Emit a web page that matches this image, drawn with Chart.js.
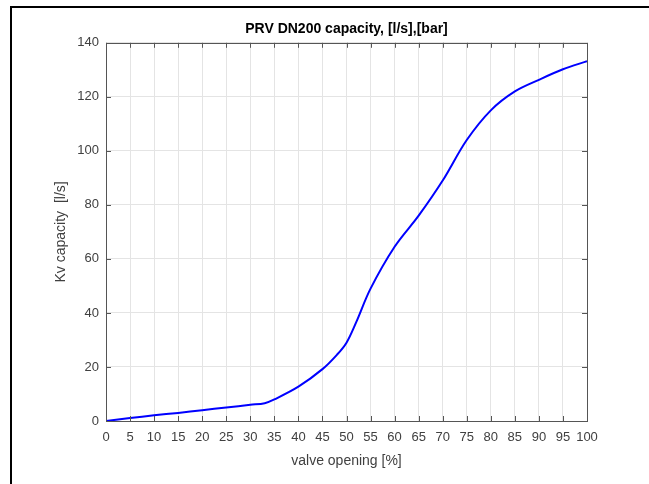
<!DOCTYPE html>
<html>
<head>
<meta charset="utf-8">
<script src="https://cdn.jsdelivr.net/npm/chart.js@4"></script>
<style>
  html, body { margin: 0; padding: 0; background: #fff; }
  #wrap { position: relative; width: 649px; height: 484px; }
  #frame { position: absolute; left: 10px; top: 6px; width: 640px; height: 480px;
           border-left: 2px solid #000; border-top: 2px solid #000; }
  canvas { position: absolute; left: 0; top: 0; }
</style>
</head>
<body>
<div id="wrap">
  <div id="frame"></div>
  <canvas id="chart" width="649" height="484"></canvas>
</div>
<script>
// valve opening [%]
var opening = [0, 5, 10, 15, 20, 25, 30, 33, 35, 40, 45, 48, 50, 52, 55, 60, 65, 70, 75, 80, 85, 90, 95, 100];
// Kv capacity [l/s]
var capacity = [0, 1.1, 2.1, 3.0, 4.0, 5.0, 6.0, 6.6, 8.0, 12.7, 19.2, 24.5, 29, 36.5, 49, 64.5, 76, 89, 104, 115, 122, 126.3, 130.2, 133.2];

var titleText = 'PRV DN200 capacity, [l/s],[bar]';
var xTitle = 'valve opening [%]';
var yTitle = 'Kv capacity  [l/s]';

var points = opening.map(function (x, i) { return { x: x, y: capacity[i] }; });

// MATLAB style box with inward ticks
var boxTicks = {
  id: 'boxTicks',
  afterDraw: function (chart) {
    var ctx = chart.ctx, a = chart.chartArea;
    var xs = chart.scales.x, ys = chart.scales.y;
    var len = 5;
    ctx.save();
    ctx.strokeStyle = '#555';
    ctx.lineWidth = 1;
    ctx.beginPath();
    xs.ticks.forEach(function (t, i) {
      var px = Math.round(xs.getPixelForTick(i)) + 0.5;
      ctx.moveTo(px, a.bottom); ctx.lineTo(px, a.bottom - len);
      ctx.moveTo(px, a.top); ctx.lineTo(px, a.top + len);
    });
    ys.ticks.forEach(function (t, i) {
      var py = Math.round(ys.getPixelForTick(i)) + 0.5;
      ctx.moveTo(a.left, py); ctx.lineTo(a.left + len, py);
      ctx.moveTo(a.right, py); ctx.lineTo(a.right - len, py);
    });
    ctx.stroke();
    ctx.strokeRect(Math.round(a.left) + 0.5, Math.round(a.top) + 0.5,
                   Math.round(a.right - a.left), Math.round(a.bottom - a.top));
    ctx.restore();
  }
};

var ctx = document.getElementById('chart').getContext('2d');
new Chart(ctx, {
  type: 'line',
  data: {
    datasets: [{
      data: points,
      borderColor: '#0000ff',
      borderWidth: 2,
      pointRadius: 0,
      fill: false,
      tension: 0.35
    }]
  },
  plugins: [boxTicks],
  options: {
    responsive: false,
    animation: false,
    layout: { padding: { left: 0, right: 62, top: 0, bottom: 0 } },
    plugins: {
      legend: { display: false },
      tooltip: { enabled: false },
      title: {
        display: true,
        text: titleText,
        fullSize: false,
        color: '#000',
        font: { family: 'Liberation Sans, Arial, sans-serif', size: 14, weight: 'bold' },
        padding: { top: 21, bottom: 5 }
      }
    },
    scales: {
      x: {
        type: 'linear',
        min: 0,
        max: 100,
        ticks: {
          stepSize: 5,
          padding: 9,
          maxRotation: 0,
          autoSkip: false,
          color: '#404040',
          font: { family: 'Liberation Sans, Arial, sans-serif', size: 13 }
        },
        grid: { color: '#e4e4e4', drawTicks: false },
        border: { display: false },
        title: {
          display: true,
          text: xTitle,
          color: '#404040',
          font: { family: 'Liberation Sans, Arial, sans-serif', size: 14 },
          padding: { top: 0, bottom: 14 }
        },
        afterFit: function (s) { s.height = 63; }
      },
      y: {
        min: 0,
        max: 140,
        ticks: {
          stepSize: 20,
          padding: 7,
          color: '#404040',
          font: { family: 'Liberation Sans, Arial, sans-serif', size: 13 }
        },
        grid: { color: '#e4e4e4', drawTicks: false },
        border: { display: false },
        title: {
          display: true,
          text: yTitle,
          color: '#404040',
          font: { family: 'Liberation Sans, Arial, sans-serif', size: 14 },
          padding: { top: 53, bottom: 0 }
        },
        afterFit: function (s) { s.width = 106; }
      }
    }
  }
});
</script>
</body>
</html>
